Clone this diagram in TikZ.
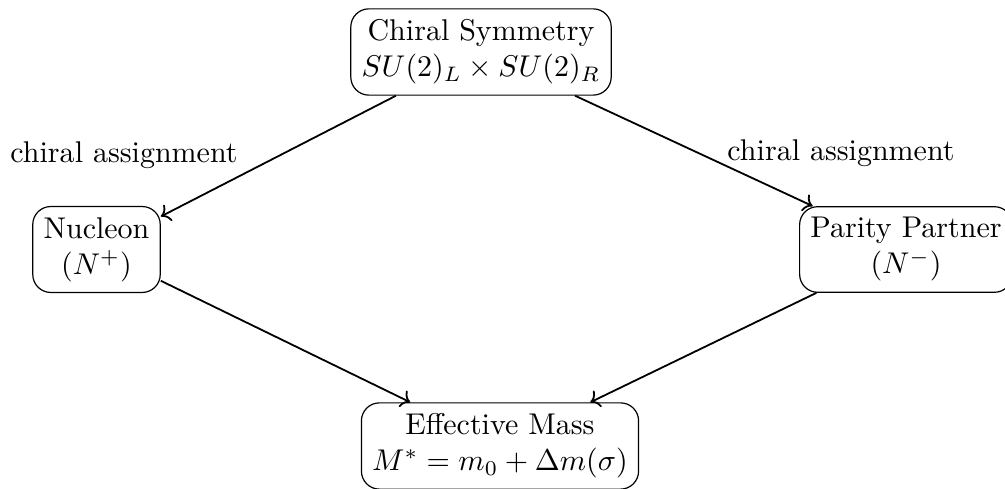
\documentclass[tikz,border=0pt]{standalone}
\usetikzlibrary{arrows.meta}
\begin{document}
\begin{tikzpicture}[x=0.3333pt,y=-0.3333pt,
  box/.style={draw,rounded corners=6pt,align=center,inner sep=3.6pt},
  conn/.style={->,semithick}]
\useasboundingbox (0,0) rectangle (1005,489);
\clip (0,0) rectangle (1005,489);
\node[box] (T) at (481,52) {Chiral Symmetry\\$SU(2)_L\times SU(2)_R$};
\node[box] (N) at (96.5,249.5) {Nucleon\\$(N^{+})$};
\node[box] (P) at (906,249.5) {Parity Partner\\$(N^{-})$};
\node[box] (E) at (500,446) {Effective Mass\\$M^{*}=m_0+\Delta m(\sigma)$};
\draw[conn] (T) -- (N);
\draw[conn] (T) -- (P);
\draw[conn] (N) -- (E);
\draw[conn] (P) -- (E);
\node (L1) at (124,155) {chiral assignment};
\node (L2) at (841,153) {chiral assignment};
\end{tikzpicture}
\end{document}
